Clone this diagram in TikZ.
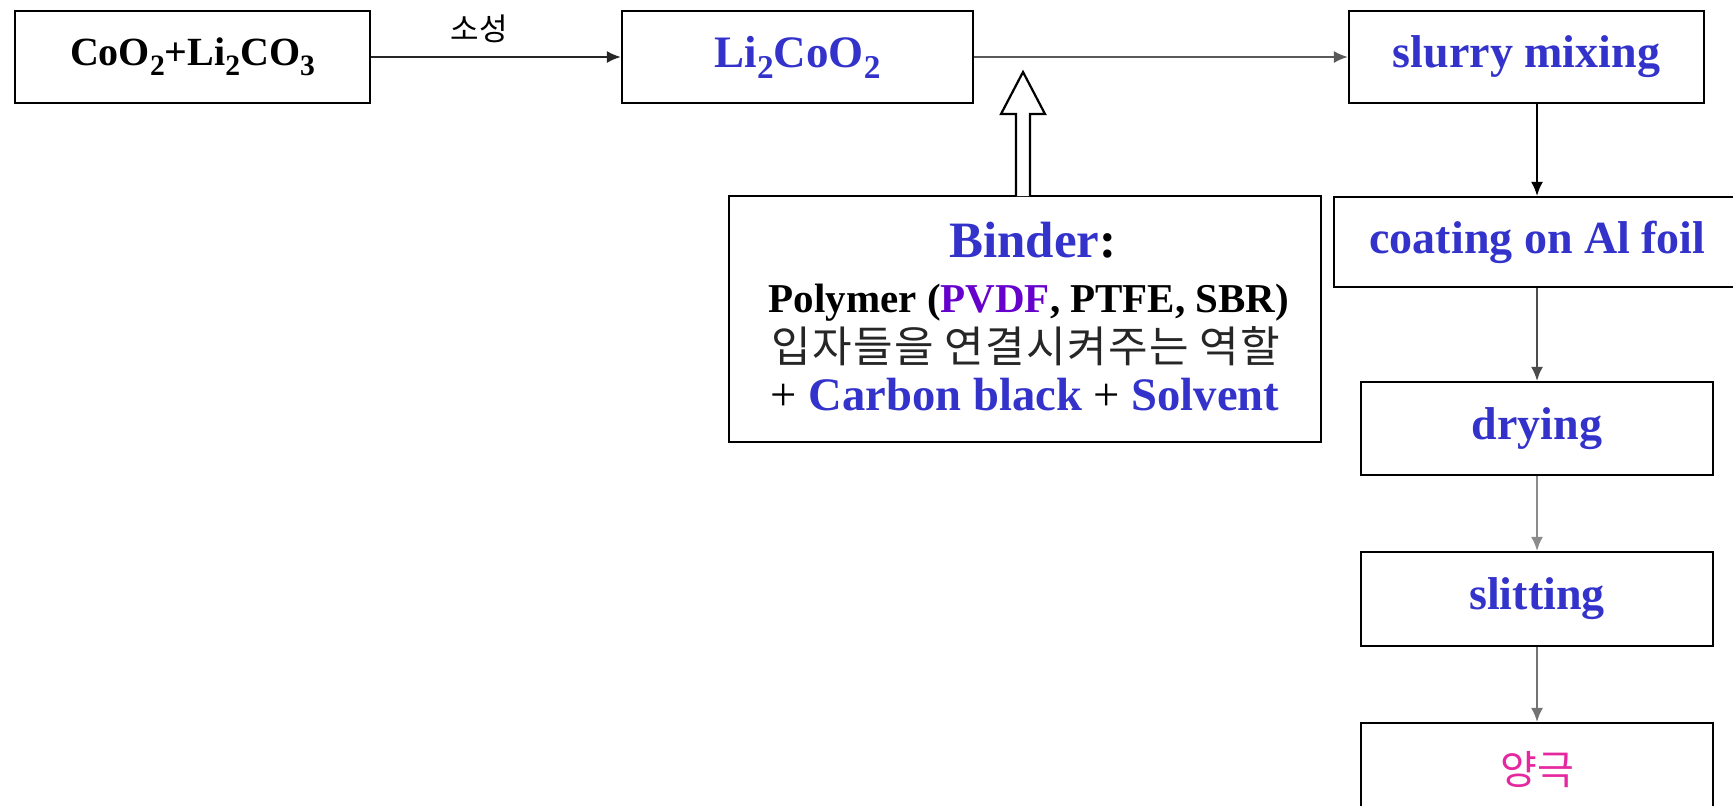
\documentclass[tikz,border=0pt]{standalone}
\usepackage{fontspec}
\setmainfont{Liberation Serif}
\newfontfamily\kr{Noto Sans CJK KR}
\newfontfamily\krw[LetterSpace=3]{Noto Sans CJK KR}
\usetikzlibrary{arrows.meta}
\definecolor{tblue}{RGB}{51,51,204}
\definecolor{tpurple}{RGB}{102,0,204}
\definecolor{tpink}{RGB}{230,40,160}
\newcommand\sbs[1]{\raisebox{-0.24em}{\scalebox{0.74}{#1}}}
\begin{document}
\begin{tikzpicture}[x=0.5pt,y=-0.5pt,
  box/.style={draw=black, line width=1.1pt, rectangle, inner sep=0pt},
  arr/.style={line width=1pt, -{Latex[length=7pt,width=6pt]}},
  lbl/.style={font=\bfseries\fontsize{23}{27}\selectfont, text=tblue},
  hollow/.style={draw=black, line width=1.1pt, fill=white}]
\useasboundingbox[fill=white] (0,0) rectangle (1733,805);

% top row
\node[box, minimum width=177.5pt, minimum height=46pt,
  font=\bfseries\fontsize{20}{24}\selectfont] (raw) at (192.5,57)
  {CoO\sbs{2}+Li\sbs{2}CO\sbs{3}};
\node[box, minimum width=175.5pt, minimum height=46pt,
  font=\bfseries\fontsize{22.5}{27}\selectfont, text=tblue] (lco) at (797.5,57)
  {Li\sbs{2}CoO\sbs{2}};
\node[box, lbl, minimum width=177.5pt, minimum height=46pt] (slurry) at (1526.5,57) {slurry mixing};

% right column
\node[box, lbl, minimum width=203.5pt, minimum height=45pt] (coating) at (1537.5,242) {coating on Al foil};
\node[box, lbl, minimum width=176pt, minimum height=46.5pt] (drying) at (1537,428.5) {drying};
\node[box, lbl, minimum width=176pt, minimum height=47pt] (slitting) at (1537,599) {slitting};
\node[box, minimum width=176pt, minimum height=47pt,
  font=\kr\fontsize{20}{24}\selectfont, text=tpink] (anode) at (1537,770) {양극};

% binder box
\node[box, minimum width=296pt, minimum height=123pt] (binder) at (1025,319) {};
\node[font=\bfseries\fontsize{25.5}{30}\selectfont, text=tblue] (t1) at (1033,240)
  {Binder\textcolor{black}{:}};
\node[font=\bfseries\fontsize{20.5}{24}\selectfont] (t2) at (1029,303)
  {Polymer (\textcolor{tpurple}{PVDF}, PTFE, SBR)};
\node[font=\krw\fontsize{21.5}{25}\selectfont, text=black!85] (t3) at (1026,346)
  {입자들을 연결시켜주는 역할};
\node[font=\fontsize{23.3}{28}\selectfont] (t4) at (1025,395)
  {+ \textcolor{tblue}{\bfseries Carbon black} + \textcolor{tblue}{\bfseries Solvent}};

% hollow arrow from binder box up to the process line
\coordinate (ha) at (1023,196);
\draw[hollow] (ha) ++(-7,0) -- ++(0,-82) -- ++(-15,0) -- ++(22,-42)
  -- ++(22,42) -- ++(-15,0) -- ++(0,82);

% connectors
\draw[arr, black!85] (raw) -- (lco);
\node[font=\kr\fontsize{15.5}{18}\selectfont] (sl) at (479,29) {소성};
\draw[arr, black!65] (lco) -- (slurry);
\draw[arr, black] (slurry.south -| drying.north) -- (coating.north -| drying.north);
\draw[arr, black!70] (coating.south -| drying.north) -- (drying.north);
\draw[arr, black!45] (drying) -- (slitting);
\draw[arr, black!55] (slitting) -- (anode);
\end{tikzpicture}
\end{document}
